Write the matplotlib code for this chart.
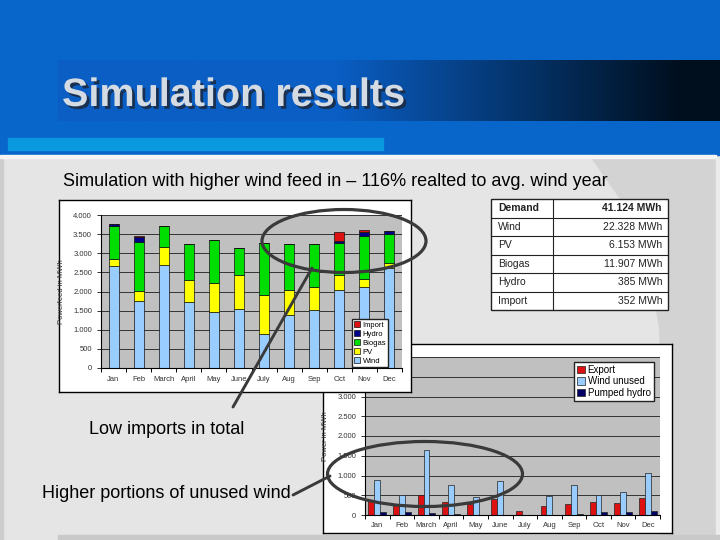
import numpy as np
import matplotlib.pyplot as plt
import matplotlib.patheffects as pe
from matplotlib.patches import Rectangle, Ellipse, Polygon
from matplotlib.ticker import FuncFormatter, MultipleLocator
from matplotlib.colors import to_rgb

plt.rcParams['font.family'] = ['Liberation Sans', 'DejaVu Sans']

months = ['Jan', 'Feb', 'March', 'April', 'May', 'June', 'July', 'Aug', 'Sep', 'Oct', 'Nov', 'Dec']

# monthly power feed in (MWh), stacked chart
wind = [2675, 1743, 2702, 1725, 1464, 1542, 889, 1386, 1516, 2039, 2118, 2614]
pv = [183, 261, 461, 575, 767, 889, 1019, 653, 602, 392, 200, 140]
biogas = [863, 1299, 541, 942, 1115, 706, 1360, 1203, 1124, 828, 1124, 758]
hydro = [44, 122, 0, 0, 0, 0, 0, 0, 0, 70, 105, 78]
imports = [0, 26, 0, 0, 0, 0, 0, 0, 0, 227, 52, 0]

# monthly surplus (MWh)
export = [381, 254, 517, 322, 280, 398, 110, 237, 280, 330, 305, 432]
wind_unused = [890, 500, 1636, 763, 458, 864, 8, 483, 763, 508, 585, 1068]
pumped_hydro = [76, 76, 50, 25, 8, 0, 0, 6, 25, 76, 76, 102]

# yearly totals table
table_labels = ['Demand', 'Wind', 'PV', 'Biogas', 'Hydro', 'Import']
table_values = ['41.124 MWh', '22.328 MWh', '6.153 MWh', '11.907 MWh', '385 MWh', '352 MWh']

title = 'Simulation results'
subtitle = 'Simulation with higher wind feed in \u2013 116% realted to avg. wind year'
note_imports = 'Low imports in total'
note_wind = 'Higher portions of unused wind'

W, H = 720, 540
fig = plt.figure(figsize=(7.2, 5.4), dpi=100)


def px_axes(x0, y0, x1, y1, z):
    # axes placed by pixel box (top-left origin)
    return fig.add_axes([x0 / W, 1 - y1 / H, (x1 - x0) / W, (y1 - y0) / H], zorder=z)


def dot_fmt(v, pos):
    return '{:,.0f}'.format(v).replace(',', '.')


def dot_fmt_low(v, pos):
    # upper labels sit under the front chart anyway
    return dot_fmt(v, pos) if v <= 3000 else ''


# ---- slide background ----
bg = px_axes(0, 0, W, H, 0)
bg.add_patch(Rectangle((0, 0), W, H, color='#e5e5e5', zorder=0))
bg.add_patch(Polygon([(592, 158), (625, 205), (648, 260), (660, 330), (660, 540),
                      (716, 540), (716, 158)], closed=True, color='#d3d3d3', zorder=1))
bg.add_patch(Rectangle((716, 158), 4, 382, color='#ebebeb', zorder=1))
bg.add_patch(Rectangle((58, 535), 662, 5, color='#c9c9c9', zorder=1))
bg.add_patch(Rectangle((0, 158), 3, 382, color='#cdcdcd', zorder=1))
bg.add_patch(Rectangle((0, 0), W, 155, color='#0866ca', zorder=1))
bg.add_patch(Rectangle((0, 155), 716, 3, color='#f5f5f5', zorder=1))
g = np.linspace(0, 1, 400)
t = np.clip((g - 0.42) / 0.52, 0, 1)
c0 = np.array(to_rgb('#0a5ec4'))
c1 = np.array(to_rgb('#000f1e'))
cols = c0[None, :] * (1 - t)[:, None] + c1[None, :] * t[:, None]
bg.imshow(cols[None, :, :], extent=[58, 720, 121, 60], aspect='auto', zorder=2)
bg.add_patch(Rectangle((8, 138), 375, 12, color='#0a98de', zorder=2))
bg.text(62, 95, title, fontsize=28.5, fontweight='bold', color='#d5dbe3', va='center', zorder=4,
        path_effects=[pe.withSimplePatchShadow(offset=(2, -2), shadow_rgbFace='#1b2b44', alpha=0.9)])
bg.text(63, 182, subtitle, fontsize=13, color='black', va='center', zorder=3)

# totals table
tx0, tx1, ty0, rh, tdiv = 491, 668, 199, 18.5, 553
bg.add_patch(Rectangle((tx0, ty0), tx1 - tx0, rh * len(table_labels), facecolor='white',
                       edgecolor='#222222', lw=1.0, zorder=3))
for i in range(1, len(table_labels)):
    bg.plot([tx0, tx1], [ty0 + i * rh] * 2, color='#222222', lw=0.8, zorder=4)
bg.plot([tdiv, tdiv], [ty0, ty0 + rh * len(table_labels)], color='#222222', lw=0.8, zorder=4)
for i, (lab, val) in enumerate(zip(table_labels, table_values)):
    fw = 'bold' if i == 0 else 'normal'
    yc = ty0 + (i + 0.5) * rh
    bg.text(tx0 + 7, yc, lab, fontsize=7.5, fontweight=fw, color='#222222', va='center', zorder=5)
    bg.text(tx1 - 6, yc, val, fontsize=7.5, fontweight=fw, color='#222222', va='center',
            ha='right', zorder=5)
bg.set_xlim(0, W)
bg.set_ylim(H, 0)
bg.axis('off')

x = np.arange(len(months))

# ---- surplus chart (behind) ----
box2 = px_axes(323, 344, 672, 533, 1)
box2.set_xticks([])
box2.set_yticks([])
for s in box2.spines.values():
    s.set_linewidth(1.0)

ax2 = px_axes(365, 357, 660, 515, 2)
ax2.set_facecolor('#c0c0c0')
bw = 0.24
ax2.bar(x - bw, export, bw, color='#dd1111', edgecolor='#222222', lw=0.5, label='Export')
ax2.bar(x, wind_unused, bw, color='#99ccff', edgecolor='#222222', lw=0.5, label='Wind unused')
ax2.bar(x + bw, pumped_hydro, bw, color='#000066', edgecolor='#222222', lw=0.5, label='Pumped hydro')
ax2.set_xlim(-0.5, 11.5)
ax2.set_ylim(0, 4000)
ax2.yaxis.set_major_locator(MultipleLocator(500))
ax2.yaxis.set_major_formatter(FuncFormatter(dot_fmt_low))
ax2.yaxis.grid(True, color='#333333', lw=0.7)
ax2.set_axisbelow(True)
ax2.set_xticks(x)
ax2.set_xticklabels(months)
ax2.set_xticks(np.arange(-0.5, 12, 1), minor=True)
ax2.tick_params(axis='x', which='major', length=0, labelsize=5.5, colors='#333333', pad=5)
ax2.tick_params(axis='x', which='minor', length=3, width=0.7)
ax2.tick_params(axis='y', length=3, width=0.7, labelsize=5.5, colors='#333333')
ax2.set_ylabel('Power in MWh', fontsize=5.5, color='#333333', labelpad=6)
for s in ['top', 'right']:
    ax2.spines[s].set_visible(False)
ax2.legend(loc='upper right', bbox_to_anchor=(0.978, 0.968), fontsize=7,
           frameon=True, fancybox=False, edgecolor='#222222', framealpha=1,
           handlelength=0.8, handleheight=0.8, handletextpad=0.3,
           labelspacing=0.15, borderpad=0.3, borderaxespad=0)

# ---- feed in chart (front) ----
box1 = px_axes(59, 200, 411, 392, 3)
box1.set_xticks([])
box1.set_yticks([])
for s in box1.spines.values():
    s.set_linewidth(1.0)

ax1 = px_axes(101, 215, 402, 368, 4)
ax1.set_facecolor('#c0c0c0')
series = [('Wind', wind, '#99ccff'), ('PV', pv, '#ffff00'), ('Biogas', biogas, '#00dd00'),
          ('Hydro', hydro, '#000088'), ('Import', imports, '#dd1111')]
bottom = np.zeros(len(months))
for name, vals, col in series:
    ax1.bar(x, vals, 0.4, bottom=bottom, color=col, edgecolor='#111111', lw=0.5, label=name)
    bottom += np.array(vals)
ax1.set_xlim(-0.5, 11.5)
ax1.set_ylim(0, 4000)
ax1.yaxis.set_major_locator(MultipleLocator(500))
ax1.yaxis.set_major_formatter(FuncFormatter(dot_fmt))
ax1.yaxis.grid(True, color='#333333', lw=0.7)
ax1.set_axisbelow(True)
ax1.set_xticks(x)
ax1.set_xticklabels(months)
ax1.set_xticks(np.arange(-0.5, 12, 1), minor=True)
ax1.tick_params(axis='x', which='major', length=0, labelsize=5.5, colors='#333333', pad=6)
ax1.tick_params(axis='x', which='minor', length=3, width=0.7)
ax1.tick_params(axis='y', length=3, width=0.7, labelsize=5.5, colors='#333333')
ax1.set_ylabel('Powerfeed in MWh', fontsize=5.5, color='#333333', labelpad=6)
for s in ['top', 'right']:
    ax1.spines[s].set_visible(False)
h, l = ax1.get_legend_handles_labels()
ax1.legend(h[::-1], l[::-1], loc='lower right', bbox_to_anchor=(0.955, 0.005), fontsize=5.5,
           frameon=True, fancybox=False, edgecolor='#222222', framealpha=1,
           handlelength=0.8, handleheight=0.8, handletextpad=0.3,
           labelspacing=0.2, borderpad=0.3, borderaxespad=0)

# ---- callouts ----
ov = px_axes(0, 0, W, H, 5)
ov.set_xlim(0, W)
ov.set_ylim(H, 0)
ov.axis('off')
ov.patch.set_alpha(0)
ov.add_patch(Ellipse((344, 241), 164, 63, fill=False, edgecolor='#3a3a3a', lw=2.3))
ov.add_patch(Ellipse((425, 474), 195, 65, fill=False, edgecolor='#3a3a3a', lw=2.3))
ov.plot([233, 312], [407, 268], color='#3a3a3a', lw=2.1, solid_capstyle='round')
ov.plot([293, 330], [495, 476], color='#3a3a3a', lw=2.1, solid_capstyle='round')
ov.text(89, 429, note_imports, fontsize=13, color='black', va='center')
ov.text(42, 494, note_wind, fontsize=13, color='black', va='center')

fig.savefig('out.png', dpi=100)
